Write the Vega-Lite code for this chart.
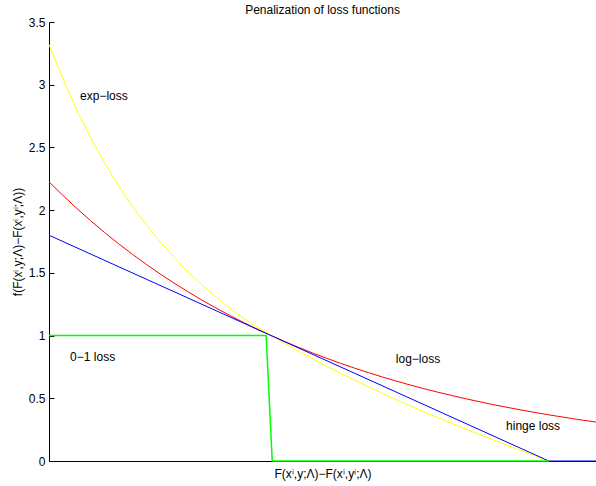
{
  "$schema": "https://vega.github.io/schema/vega-lite/v6.json",
  "autosize": "none",
  "padding": {"left": 49, "top": 22, "right": 0, "bottom": 25},
  "width": 547,
  "height": 439,
  "background": "white",
  "config": {
    "font": "Liberation Sans",
    "view": {"stroke": null},
    "title": {"fontSize": 12, "fontWeight": "normal", "color": "black", "font": "Liberation Sans", "offset": -1},
    "axis": {"labelFont": "Liberation Sans", "titleFont": "Liberation Sans", "labelFontSize": 12, "titleFontSize": 12, "titleFontWeight": "normal", "labelColor": "black", "titleColor": "black", "domainColor": "black", "tickColor": "black", "grid": false}
  },
  "title": {"text": "Penalization of loss functions"},
  "datasets": {
    "expcurve": [
      {"m": -0.8, "v": 3.32}, {"m": -0.7, "v": 2.8}, {"m": -0.6, "v": 2.38}, {"m": -0.5, "v": 2.03},
      {"m": -0.4, "v": 1.75}, {"m": -0.3, "v": 1.51}, {"m": -0.2, "v": 1.31}, {"m": -0.1, "v": 1.14},
      {"m": 0.0, "v": 1.0}, {"m": 0.1, "v": 0.875}, {"m": 0.2, "v": 0.755}, {"m": 0.3, "v": 0.645},
      {"m": 0.4, "v": 0.54}, {"m": 0.5, "v": 0.44}, {"m": 0.6, "v": 0.345}, {"m": 0.7, "v": 0.255},
      {"m": 0.8, "v": 0.168}, {"m": 0.9, "v": 0.083}, {"m": 1.0, "v": 0.0}
    ],
    "logcurve": [
      {"m": -0.8, "v": 2.2255}, {"m": -0.7, "v": 2.0138}, {"m": -0.6, "v": 1.8221}, {"m": -0.5, "v": 1.6487},
      {"m": -0.4, "v": 1.4918}, {"m": -0.3, "v": 1.3499}, {"m": -0.2, "v": 1.2214}, {"m": -0.1, "v": 1.1052},
      {"m": 0.0, "v": 1.0}, {"m": 0.1, "v": 0.9048}, {"m": 0.2, "v": 0.8187}, {"m": 0.3, "v": 0.7408},
      {"m": 0.4, "v": 0.6703}, {"m": 0.5, "v": 0.6065}, {"m": 0.6, "v": 0.5488}, {"m": 0.7, "v": 0.4966},
      {"m": 0.8, "v": 0.4493}, {"m": 0.9, "v": 0.4066}, {"m": 1.0, "v": 0.3679}, {"m": 1.1, "v": 0.3329},
      {"m": 1.17, "v": 0.3104}
    ],
    "hinge": [
      {"m": -0.8, "v": 1.8}, {"m": 1.0, "v": 0.0}, {"m": 1.17, "v": 0.0}
    ],
    "zeroone": [
      {"m": -0.8, "v": 1.0}, {"m": -0.018, "v": 1.0}, {"m": 0.004, "v": 0.0}, {"m": 1.0, "v": 0.0}
    ],
    "labels": [
      {"m": -0.688, "v": 2.91, "label": "exp−loss"},
      {"m": -0.724, "v": 0.827, "label": "0−1 loss"},
      {"m": 0.449, "v": 0.813, "label": "log−loss"},
      {"m": 0.846, "v": 0.279, "label": "hinge loss"}
    ]
  },
  "encoding": {
    "x": {"field": "m", "type": "quantitative",
      "scale": {"domain": [-0.8, 1.17], "nice": false, "zero": false},
      "axis": {"title": "F(xⁱ,y;Λ)−F(xⁱ,yⁱ;Λ)", "labels": false, "ticks": false, "titlePadding": 7}},
    "y": {"field": "v", "type": "quantitative",
      "scale": {"domain": [0, 3.5], "nice": false},
      "axis": {"title": "f(F(xⁱ,y;Λ)−F(xⁱ,yⁱ;Λ))", "values": [0, 0.5, 1, 1.5, 2, 2.5, 3, 3.5], "format": "~g", "tickSize": -5, "labelPadding": 9, "titlePadding": 4}}
  },
  "layer": [
    {"data": {"name": "logcurve"}, "mark": {"type": "line", "color": "#ff0000", "strokeWidth": 1, "interpolate": "monotone"}},
    {"data": {"name": "expcurve"}, "mark": {"type": "line", "color": "#ffff00", "strokeWidth": 1, "interpolate": "monotone"}},
    {"data": {"name": "hinge"}, "mark": {"type": "line", "color": "#0000ff", "strokeWidth": 1}},
    {"data": {"name": "zeroone"}, "mark": {"type": "line", "color": "#00ff00", "strokeWidth": 1.5}},
    {"data": {"name": "labels"}, "mark": {"type": "text", "align": "left", "baseline": "middle", "fontSize": 12, "font": "Liberation Sans", "color": "black"},
      "encoding": {"text": {"field": "label", "type": "nominal"}}},
    {"mark": {"type": "rule", "color": "black", "strokeWidth": 1}, "encoding": {"y": {"datum": 3.5}}}
  ]
}
